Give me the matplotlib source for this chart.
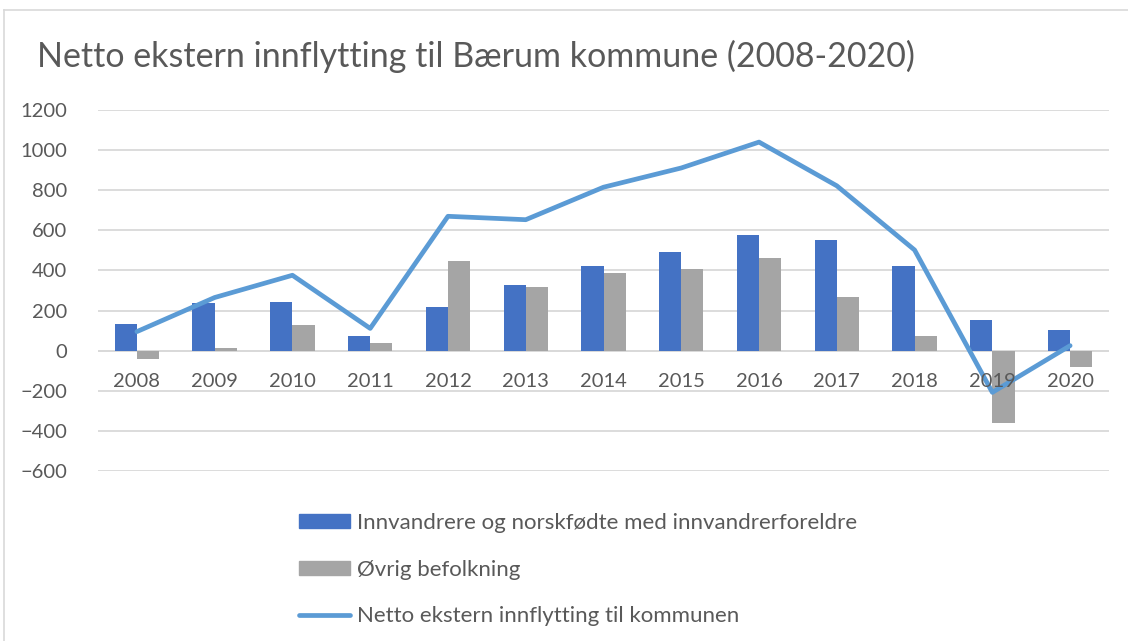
import matplotlib.pyplot as plt
import numpy as np
from matplotlib.lines import Line2D
from matplotlib.patches import Patch
from matplotlib.transforms import offset_copy

plt.rcParams['font.family'] = ['Lato', 'DejaVu Sans']

years = ["2008", "2009", "2010", "2011", "2012", "2013", "2014",
         "2015", "2016", "2017", "2018", "2019", "2020"]
innvandrere = [133, 239, 243, 72, 216, 328, 420, 494, 575, 554, 420, 151, 103]
ovrig = [-41, 15, 126, 40, 447, 319, 386, 409, 462, 266, 75, -359, -83]
netto = [95, 265, 376, 111, 670, 653, 815, 911, 1040, 822, 502, -208, 25]

labels = ["Innvandrere og norskfødte med innvandrerforeldre",
          "Øvrig befolkning",
          "Netto ekstern innflytting til kommunen"]
title = "Netto ekstern innflytting til Bærum kommune (2008-2020)"

BLUE = "#4472c4"
GRAY = "#a5a5a5"
LINE = "#5b9bd5"
TEXT = "#595959"
GRID = "#d9d9d9"

W, H = 1128, 641
fig = plt.figure(figsize=(W / 100, H / 100), dpi=100)

# chart frame
fig.add_artist(Line2D([4 / W, 4 / W], [0, 1 - 10 / H], color=GRID, lw=1.2))
fig.add_artist(Line2D([4 / W, 1], [1 - 10 / H, 1 - 10 / H], color=GRID, lw=1.2))

ax = fig.add_axes([98 / W, 1 - 471 / H, (1109 - 98) / W, (471 - 110) / H])

x = np.arange(len(years))
bw = 0.285
ax.bar(x - bw / 2, innvandrere, bw, color=BLUE, zorder=2)
ax.bar(x + bw / 2, ovrig, bw, color=GRAY, zorder=2)
ax.plot(x, netto, color=LINE, lw=3.4, solid_joinstyle="round",
        solid_capstyle="round", zorder=3)

ax.set_xlim(-0.5, len(years) - 0.5)
ax.set_ylim(-600, 1200)
ax.set_yticks(np.arange(-600, 1201, 200))
ax.set_xticks([])
ax.axhline(0, color=GRID, lw=1.3, zorder=1)
ax.grid(axis="y", color=GRID, lw=1.3, zorder=0)
ax.set_axisbelow(True)

for s in ["top", "right", "left", "bottom"]:
    ax.spines[s].set_visible(False)
ax.tick_params(axis="y", length=0, pad=22, labelsize=14.5, labelcolor=TEXT)

# category labels sit just under the zero line, drawn over the bars
lab_tr = offset_copy(ax.transData, fig=fig, y=-31, units="dots")
for xi, yr in zip(x, years):
    ax.text(xi, 0, yr, transform=lab_tr, ha="center", va="center",
            fontsize=14.5, color=TEXT, zorder=5)

fig.text(37 / W, 1 - 56 / H, title, fontsize=24.5, color=TEXT,
         va="center", ha="left")

handles = [Patch(color=BLUE), Patch(color=GRAY),
           Line2D([0], [0], color=LINE, lw=3.4, solid_capstyle="round")]
fig.legend(handles, labels, loc="upper left",
           bbox_to_anchor=(299 / W, 1 - 513 / H), frameon=False,
           fontsize=16, labelcolor=TEXT, handlelength=2.3,
           handleheight=0.62, handletextpad=0.3, labelspacing=1.2,
           borderaxespad=0, borderpad=0)

fig.savefig("out.png", dpi=100)
